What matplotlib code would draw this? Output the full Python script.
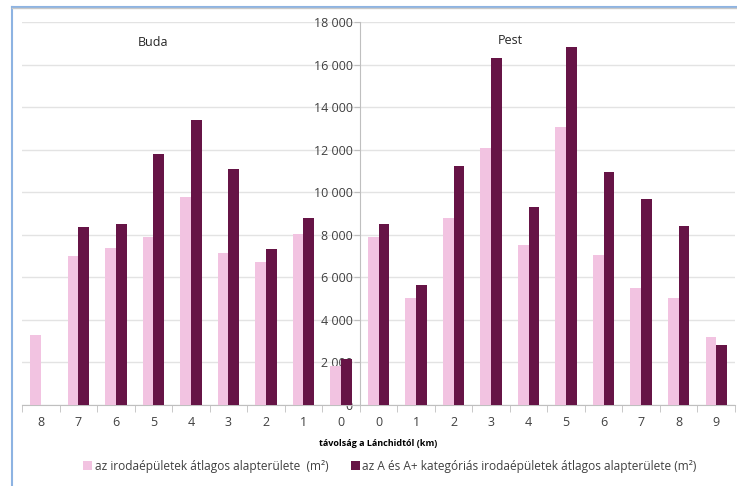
import numpy as np
import matplotlib.pyplot as plt
from matplotlib.lines import Line2D

plt.rcParams['font.family'] = ['Open Sans', 'DejaVu Sans']

# distance from the Chain Bridge (km), Buda side then Pest side
buda_km = ["8", "7", "6", "5", "4", "3", "2", "1", "0"]
pest_km = ["0", "1", "2", "3", "4", "5", "6", "7", "8", "9"]

# average floor area of office buildings (m2)
all_offices = [3300, 7000, 7380, 7910, 9770, 7140, 6740, 8060, 1830,
               7880, 5030, 8810, 12070, 7500, 13070, 7030, 5500, 5030, 3190]
# average floor area of category A and A+ office buildings (m2)
a_offices = [np.nan, 8380, 8520, 11790, 13410, 11100, 7330, 8780, 2170,
             8520, 5660, 11250, 16330, 9320, 16820, 10970, 9690, 8390, 2810]

labels = buda_km + pest_km
x = np.arange(len(labels))
w = 1 / 3.5

fig = plt.figure(figsize=(7.37, 4.86), dpi=100)
ax = fig.add_axes([22 / 737, 1 - 405 / 486, 713 / 737, 383 / 486])

ax.bar(x - w / 2, all_offices, w, color="#F2C3E1", zorder=3,
       label="az irodaépületek átlagos alapterülete  (m²)")
ax.bar(x + w / 2, a_offices, w, color="#661446", zorder=3,
       label="az A és A+ kategóriás irodaépületek átlagos alapterülete (m²)")

ax.set_xlim(-0.5, len(labels) - 0.5)
ax.set_ylim(0, 18000)
yt = np.arange(0, 18001, 2000)
ax.set_yticks(yt)
ax.set_yticklabels([f"{v:,}".replace(",", " ") for v in yt])
ax.yaxis.grid(True, color="#E3E3E3", lw=1, zorder=0)

# value axis sits between Buda and Pest
ax.spines['left'].set_position(('data', len(buda_km) - 0.5))
ax.spines['left'].set_color("#BFBFBF")
ax.spines['bottom'].set_color("#BFBFBF")
ax.spines['right'].set_visible(False)
ax.spines['top'].set_visible(False)
ax.spines['left'].set_zorder(4)

ax.set_xticks(x)
ax.set_xticklabels(labels)
ax.set_xticks(np.arange(-0.5, len(labels), 1), minor=True)
ax.tick_params(axis='x', which='major', length=0, pad=8, labelsize=9, labelcolor="#404040")
ax.tick_params(axis='x', which='minor', length=5, color="#BFBFBF")
ax.tick_params(axis='y', length=4, color="#BFBFBF", labelsize=9, labelcolor="#404040", pad=1)
for t in ax.get_yticklabels():
    t.set_zorder(5)

ax.set_xlabel("távolság a Lánchidtól (km)", fontsize=6.5, fontweight="bold", labelpad=7)

ax.text(3.0, 17050, "Buda", ha="center", va="center", fontsize=9, color="#262626")
ax.text(12.5, 17150, "Pest", ha="center", va="center", fontsize=9, color="#262626")

ax.legend(loc="center", bbox_to_anchor=(390 / 737, 1 - 466 / 486), bbox_transform=fig.transFigure,
          ncol=2, frameon=False, fontsize=8.6, handlelength=0.75, handleheight=0.75,
          handletextpad=0.2, columnspacing=1.9, labelcolor="#404040")

# outer frame (left and top edges)
fig.add_artist(Line2D([12 / 737, 12 / 737], [0, 1 - 7 / 486], transform=fig.transFigure,
                      color="#8DB3E2", lw=1.5))
fig.add_artist(Line2D([12 / 737, 1], [1 - 7 / 486, 1 - 7 / 486], transform=fig.transFigure,
                      color="#8DB3E2", lw=1.5))
fig.add_artist(Line2D([12 / 737, 1], [1 - 8.5 / 486, 1 - 8.5 / 486], transform=fig.transFigure,
                      color="#C8C8C8", lw=1))

fig.savefig("out.png", dpi=100)
